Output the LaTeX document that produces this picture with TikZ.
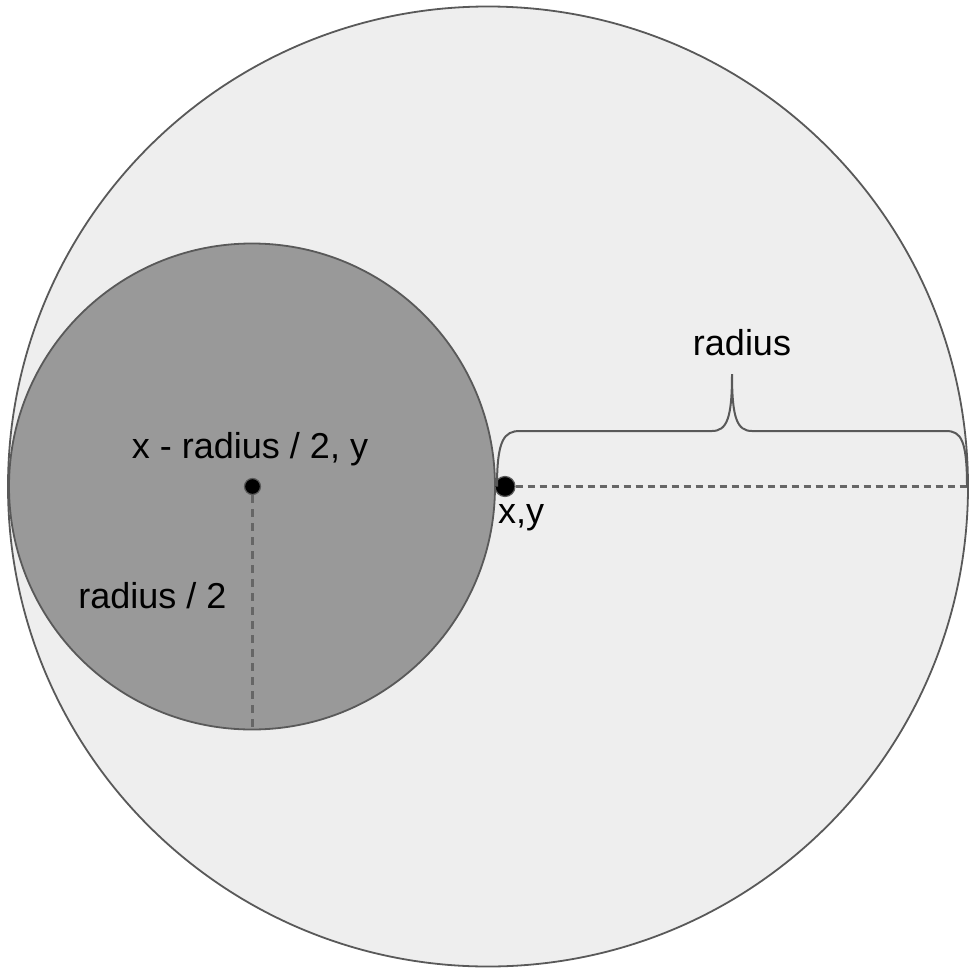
\documentclass[tikz,border=0pt]{standalone}
\usepackage{fontspec}
\setmainfont{Liberation Sans}
\definecolor{bigfill}{HTML}{EEEEEE}
\definecolor{smallfill}{HTML}{999999}
\definecolor{edge}{HTML}{595959}
\definecolor{dashc}{HTML}{666666}
\begin{document}
\begin{tikzpicture}[x=1pt,y=-1pt,
  ring/.style={circle,draw=edge,line width=1.8pt,inner sep=0pt},
  dotnode/.style={circle,fill=black,draw=edge,line width=1.2pt,inner sep=0pt},
  dimline/.style={draw=dashc,line width=2.2pt,dash pattern=on 7pt off 5pt},
  lbl/.style={inner sep=0pt,font=\fontsize{36}{43}\selectfont},
  bracec/.style={draw=edge,line width=2pt}]
\useasboundingbox[fill=white] (0,0) rectangle (969,969);
\node[ring,fill=bigfill,minimum size=960pt] (big) at (488,486.5) {};
\node[ring,fill=smallfill,minimum size=486pt] (small) at (252,486.5) {};
\node[dotnode,minimum size=20pt] (xy) at (505,486.5) {};
\node[dotnode,minimum size=16pt] (c) at (252.5,486.5) {};
\coordinate (hend) at (967,486.5);
\coordinate (vend) at (252.5,728);
\draw[dimline] (xy.east) -- (hend);
\draw[dimline,dash pattern=on 8pt off 6pt] (c.south) -- (vend);
\coordinate (bl) at (497,486.5);
\coordinate (br) at (967,486.5);
\coordinate (tip) at (732,374);
\draw[bracec] (bl) .. controls (497,440) and (504,431) .. (520,431) -- (712,431)
  .. controls (727,431) and (732,418) .. (tip)
  .. controls (732,418) and (737,431) .. (752,431) -- (946,431)
  .. controls (961,431) and (967,440) .. (br);
\node[lbl,anchor=base] (lc) at (250,458) {x - radius / 2, y};
\node[lbl,anchor=base] (lr2) at (152.5,608) {radius / 2};
\node[lbl,anchor=base west] (lxy) at (498,523) {x,y};
\node[lbl,anchor=base] (lr) at (742,355) {radius};
\end{tikzpicture}
\end{document}
